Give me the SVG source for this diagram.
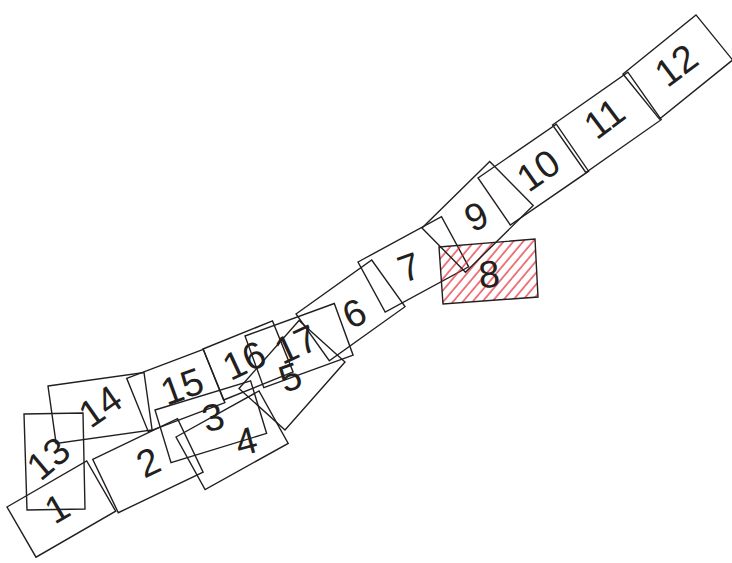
<svg xmlns="http://www.w3.org/2000/svg" width="732" height="563" viewBox="0 0 732 563">
<style>
.fp{fill:none;stroke:#231f20;stroke-width:1.4;stroke-linejoin:miter}
.sel{fill:url(#hatch);stroke:#231f20;stroke-width:1.4}
.lb{font-family:"Liberation Sans",Arial,sans-serif;font-size:38px;fill:#231f20;text-anchor:middle}
</style>
<defs>
<pattern id="hatch" width="7.5" height="8" patternUnits="userSpaceOnUse" patternTransform="rotate(40)">
<line x1="1" y1="0" x2="1" y2="8" stroke="#e3222b" stroke-width="1.2"/>
</pattern>
</defs>
<rect width="732" height="563" fill="#ffffff"/>
<g id="fp13"><polygon class="fp" points="24,414 83,413 85,509 27,510"/><text class="lb" transform="translate(48,458) rotate(-40)" y="13.5">13</text></g>
<g id="fp14"><polygon class="fp" points="48,386 144,372.5 152.1,429.9 56.1,443.4"/><text class="lb" transform="translate(100,406) rotate(-35)" y="13.5">14</text></g>
<g id="fp1"><polygon class="fp" points="7,507 86.7,461 115.7,511.2 36,557.2"/><text class="lb" transform="translate(57,508) rotate(-30)" y="13.5">1</text></g>
<g id="fp2"><polygon class="fp" points="92.7,459.3 177.5,418.7 203.1,472.1 118.3,512.7"/><text class="lb" transform="translate(148,462) rotate(-25)" y="13.5">2</text></g>
<g id="fp15"><polygon class="fp" points="126.7,378.3 203.3,349.3 224.9,402.7 148.3,431.7"/><text class="lb" transform="translate(182,386) rotate(-20)" y="13.5">15</text></g>
<g id="fp3"><polygon class="fp" points="155,410 250.6,380.8 266.6,433.4 171,462.6"/><text class="lb" transform="translate(213,417) rotate(-15)" y="13.5">3</text></g>
<g id="fp4"><polygon class="fp" points="176,437 259,391 288.2,443.4 205.1,489.5"/><text class="lb" transform="translate(246,441) rotate(-15)" y="13.5">4</text></g>
<g id="fp16"><polygon class="fp" points="203,349 272.5,320.9 293.1,371.9 223.6,400"/><text class="lb" transform="translate(244,360) rotate(-25)" y="13.5">16</text></g>
<g id="fp17"><polygon class="fp" points="245,336 334.3,303.5 353.1,355.2 263.8,387.7"/><text class="lb" transform="translate(296,344) rotate(-25)" y="13.5">17</text></g>
<g id="fp5"><polygon class="fp" points="239,388.5 299,320.5 345,362 285,430"/><text class="lb" transform="translate(290,377) rotate(-20)" y="13.5">5</text></g>
<g id="fp6"><polygon class="fp" points="296,314 371.7,260 405,306.7 329.3,360.7"/><text class="lb" transform="translate(354,313) rotate(-25)" y="13.5">6</text></g>
<g id="fp7"><polygon class="fp" points="358,262 441.5,216.7 468.7,266.8 385.2,312.1"/><text class="lb" transform="translate(409,267) rotate(-20)" y="13.5">7</text></g>
<g id="fp8"><polygon class="sel" points="439,247 535,239 538,297 443,304"/><text class="lb" transform="translate(489,274) rotate(-5)" y="13.5">8</text></g>
<g id="fp9"><polygon class="fp" points="422,228 489.7,161.4 533.2,205.6 465.5,272.2"/><text class="lb" transform="translate(476,216) rotate(-25)" y="13.5">9</text></g>
<g id="fp10"><polygon class="fp" points="478,178 556.3,124.2 588.6,171.2 510.3,225"/><text class="lb" transform="translate(538,170) rotate(-35)" y="13.5">10</text></g>
<g id="fp11"><polygon class="fp" points="552.5,125 627.9,72.2 661.2,119.7 585.8,172.5"/><text class="lb" transform="translate(604,118) rotate(-37)" y="13.5">11</text></g>
<g id="fp12"><polygon class="fp" points="623,74 696,14.9 732.6,60 659.5,119.1"/><text class="lb" transform="translate(676,65) rotate(-37)" y="13.5">12</text></g>
</svg>
